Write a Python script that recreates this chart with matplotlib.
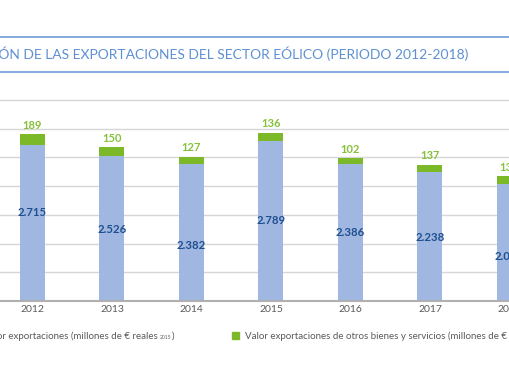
import matplotlib
matplotlib.use("Agg")
import matplotlib.pyplot as plt
from matplotlib.lines import Line2D
import numpy as np

years = ["2012", "2013", "2014", "2015", "2016", "2017", "2018"]
equipos = [2715, 2526, 2382, 2789, 2386, 2238, 2040]
otros = [189, 150, 127, 136, 102, 137, 136]
equipos_labels = ["2.715", "2.526", "2.382", "2.789", "2.386", "2.238", "2.040"]
title = "EVOLUCIÓN DE LAS EXPORTACIONES DEL SECTOR EÓLICO (PERIODO 2012-2018)"
legend1 = "Valor exportaciones (millones de € reales "
legend2 = "Valor exportaciones de otros bienes y servicios (millones de € reales "
legend_sub = "2015"

# vertical nudges (pixels, + = down) of the inner labels, as placed in the original
label_nudge_px = [-10.7, 0.8, 12.4, 0, 0.5, 1, 14]

BLUE = "#9fb7e1"
GREEN = "#7cb928"
GREEN_TXT = "#86c03a"
DARK_BLUE = "#1f4f8e"
TITLE_BLUE = "#5e90d3"
GRAY_TXT = "#5a5a5a"

W, H = 510, 382
fig = plt.figure(figsize=(W / 100, H / 100), dpi=100)
plt.rcParams['font.family'] = ['Lato', 'DejaVu Sans']

# axes geometry (pixels)
x0_px, step_px = 32.5, 79.5
axis_px, px_per_unit = 301, 201 / 3500
ymax = 3600
top_px = axis_px - ymax * px_per_unit
ax = fig.add_axes([0, (H - axis_px) / H, 1, (axis_px - top_px) / H])
ax.set_xlim(-x0_px / step_px, (W - x0_px) / step_px)
ax.set_ylim(0, ymax)

x = np.arange(len(years))
bw = 25 / step_px
ax.bar(x, equipos, width=bw, color=BLUE, zorder=3)
ax.bar(x, otros, bottom=equipos, width=bw, color=GREEN, zorder=3)

for xi, e, o, lab, nd in zip(x, equipos, otros, equipos_labels, label_nudge_px):
    ax.annotate(lab, (xi, e / 2), xytext=(0, -nd * 0.72), textcoords="offset points",
                ha="center", va="center", fontsize=8.2, fontweight="bold",
                color=DARK_BLUE, zorder=4)
    ax.annotate(str(o), (xi, e + o), xytext=(0, 6.5), textcoords="offset points",
                ha="center", va="center", fontsize=8, fontweight="bold",
                color=GREEN_TXT, zorder=4)

ax.set_yticks(np.arange(500, 3501, 500))
ax.set_yticklabels([])
ax.grid(axis="y", color="#d6d6d6", lw=1, zorder=0)
ax.set_xticks(x)
ax.set_xticklabels(years, fontsize=7.5, color=GRAY_TXT)
ax.tick_params(axis="both", length=0)
ax.tick_params(axis="x", pad=3)
for s in ["top", "left", "right"]:
    ax.spines[s].set_visible(False)
ax.spines["bottom"].set_color("#b0b0b0")
ax.spines["bottom"].set_linewidth(1.5)
ax.spines["bottom"].set_zorder(5)

# title box
for ypx in (37, 72):
    fig.add_artist(Line2D([0, 1], [(H - ypx) / H] * 2, color="#7ba4da", lw=1.3,
                          transform=fig.transFigure))
fig.text(468 / W, (H - 54) / H, title, ha="right", va="center", fontsize=10,
         color=TITLE_BLUE)

# legend 1 (cut on the left)
LFS = 7.0
ly = (H - 336) / H
p1 = fig.text(174 / W, ly, ")", ha="right", va="center", fontsize=LFS, color=GRAY_TXT)
fig.canvas.draw()
r = fig.canvas.get_renderer()
bb = p1.get_window_extent(r)
s1 = fig.text(bb.x0 / W, (bb.y0 + 0.5) / H, legend_sub, fontsize=3.6, color=GRAY_TXT,
              ha="right", va="bottom")
fig.canvas.draw()
bb2 = s1.get_window_extent(r)
fig.text(bb2.x0 / W, ly, legend1, ha="right", va="center", fontsize=LFS, color=GRAY_TXT)

# legend 2
fig.add_artist(plt.Rectangle((232 / W, (H - 339) / H), 7 / W, 7 / H, color=GREEN,
                             transform=fig.transFigure))
fig.text(245 / W, ly, legend2, ha="left", va="center", fontsize=LFS, color=GRAY_TXT)

fig.savefig("out.png", dpi=100)
